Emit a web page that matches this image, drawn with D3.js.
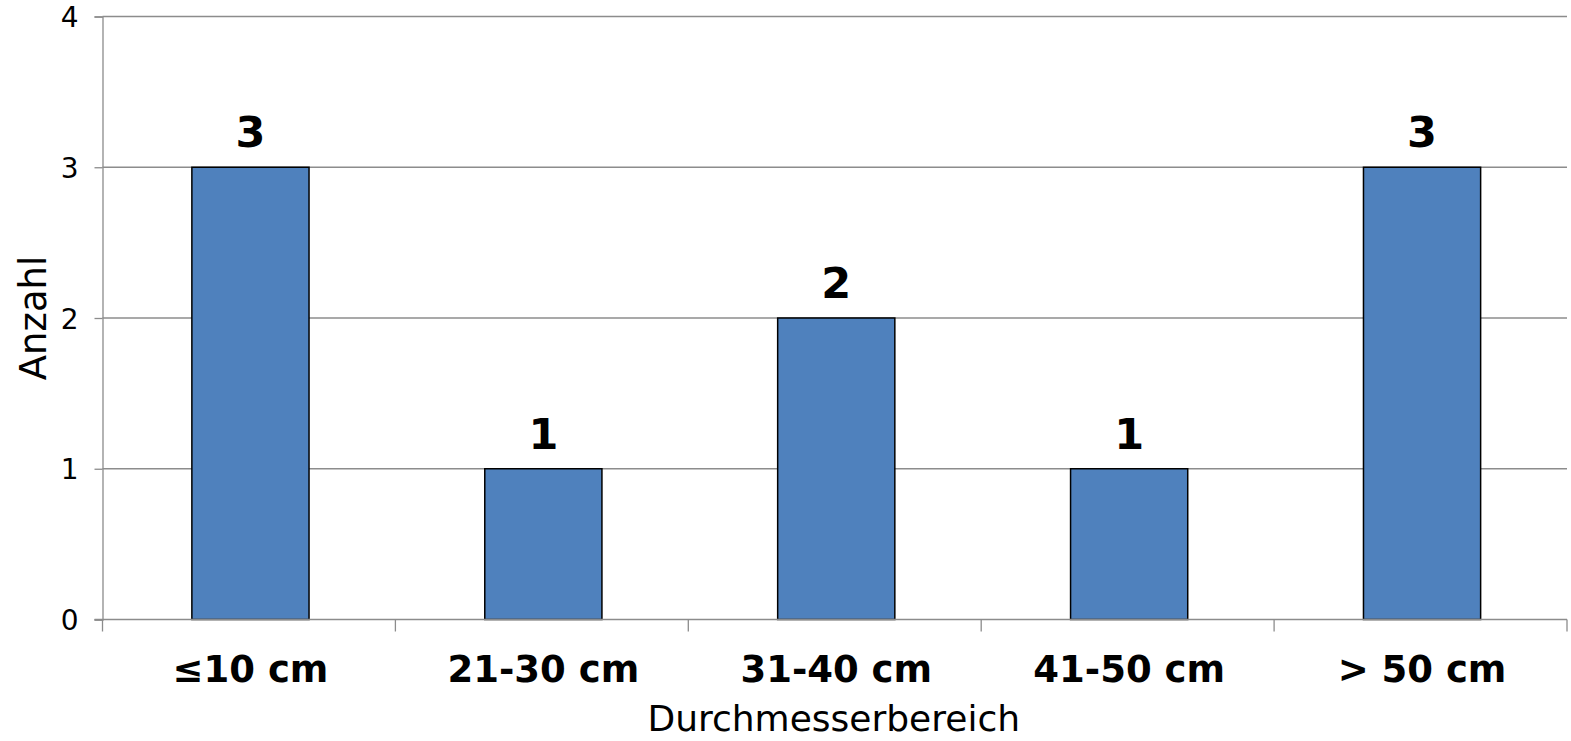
<!DOCTYPE html>
<html><head><meta charset="utf-8">
<script src="https://cdn.jsdelivr.net/npm/d3@7"></script>
<style>body{margin:0;background:#fff}svg{display:block}</style>
</head><body>
<script>
const categories = ["≤10 cm", "21-30 cm", "31-40 cm", "41-50 cm", "> 50 cm"];
const values = [3, 1, 2, 1, 3];
const yTicks = [0, 1, 2, 3, 4];
const xTitle = "Durchmesserbereich";
const yTitle = "Anzahl";

const W = 1571, H = 741;
const m = {l: 102.5, r: 1567, t: 16.5, b: 619.5};
const font = "Verdana, 'DejaVu Sans', sans-serif";
const svg = d3.select("body").append("svg").attr("width", W).attr("height", H);

const x = d3.scaleBand().domain(categories).range([m.l + 1.5, m.r + 1.5]).paddingInner(0.6).paddingOuter(0.3);
const y = d3.scaleLinear().domain([0, 4]).range([m.b, m.t]);

// gridlines
svg.append("g").selectAll("line").data(yTicks.filter(d => d > 0)).join("line")
  .attr("x1", m.l).attr("x2", m.r).attr("y1", d => y(d)).attr("y2", d => y(d))
  .attr("stroke", "#8c8c8c").attr("stroke-width", 1.3);

// y axis
const yAxis = svg.append("g").attr("transform", `translate(${m.l},0)`)
  .call(d3.axisLeft(y).tickValues(yTicks).tickSize(8).tickPadding(16).tickFormat(d3.format("d")));
yAxis.attr("font-size", null).attr("font-family", null);
yAxis.select(".domain").attr("stroke", "#8c8c8c").attr("stroke-width", 1.3);
yAxis.selectAll(".tick line").attr("stroke", "#8c8c8c").attr("stroke-width", 1.3);
yAxis.selectAll("text").attr("font-family", font).attr("font-size", 28).attr("fill", "#000").attr("dy", "0.36em");

// bars
svg.append("g").selectAll("rect").data(values).join("rect")
  .attr("x", (d, i) => x(categories[i])).attr("width", x.bandwidth())
  .attr("y", d => y(d)).attr("height", d => y(0) - y(d))
  .attr("fill", "#4F81BD").attr("stroke", "#000").attr("stroke-width", 1.5);

// x axis
const xAxisG = svg.append("g").attr("transform", `translate(0,${m.b})`);
xAxisG.append("line").attr("x1", m.l - 8).attr("x2", m.r).attr("stroke", "#8c8c8c").attr("stroke-width", 1.3);
const bounds = d3.range(categories.length + 1).map(i => m.l + (m.r - m.l) / categories.length * i);
xAxisG.selectAll(".tk").data(bounds).join("line").attr("class", "tk")
  .attr("x1", d => d).attr("x2", d => d).attr("y1", 0).attr("y2", 12)
  .attr("stroke", "#8c8c8c").attr("stroke-width", 1.3);
xAxisG.selectAll("text").data(categories).join("text")
  .attr("x", d => x(d) + x.bandwidth() / 2).attr("y", 62)
  .attr("text-anchor", "middle").attr("font-family", font).attr("font-weight", "bold")
  .attr("font-size", 37).attr("fill", "#000").text(d => d);

// data labels
svg.append("g").selectAll("text").data(values).join("text")
  .attr("x", (d, i) => x(categories[i]) + x.bandwidth() / 2).attr("y", d => y(d) - 20)
  .attr("text-anchor", "middle").attr("font-family", font).attr("font-weight", "bold")
  .attr("font-size", 43).attr("fill", "#000").text(d => d);

// titles
svg.append("text").attr("x", (m.l + m.r) / 2 - 1).attr("y", 731).attr("text-anchor", "middle")
  .attr("font-family", font).attr("font-size", 36).attr("fill", "#000").text(xTitle);
svg.append("text").attr("transform", `translate(46,${(m.t + m.b) / 2}) rotate(-90)`).attr("text-anchor", "middle")
  .attr("font-family", font).attr("font-size", 37).attr("fill", "#000").text(yTitle);
</script>
</body></html>
